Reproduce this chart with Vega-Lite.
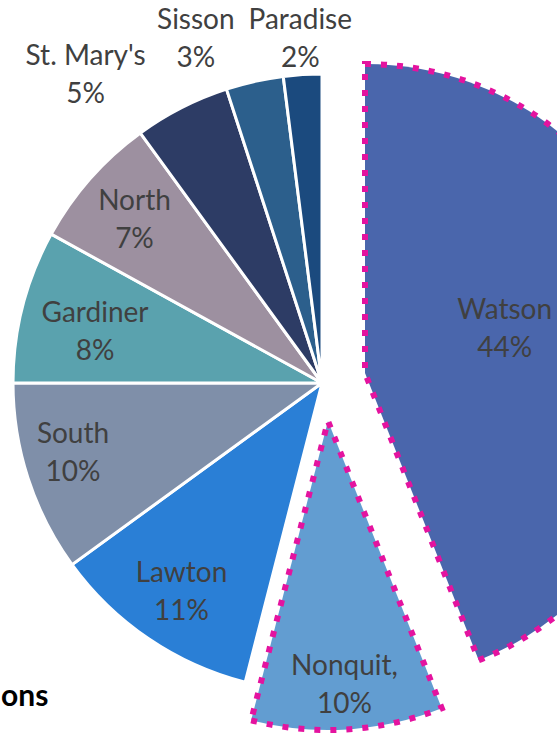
{
  "$schema": "https://vega.github.io/schema/vega-lite/v6.json",
  "width": 470,
  "height": 710,
  "autosize": {"type": "none"},
  "padding": {"left": 87, "top": 28, "right": 0, "bottom": 0},
  "background": "white",
  "config": {"view": {"stroke": null}},
  "title": {
    "text": "ons",
    "orient": "bottom",
    "anchor": "start",
    "frame": "group",
    "baseline": "alphabetic",
    "dx": -86,
    "dy": -93,
    "font": "Lato",
    "fontSize": 30,
    "fontWeight": "bold",
    "color": "black"
  },
  "data": {
    "values": [
      {"name": "Watson", "value": 0.44, "idx": 1},
      {"name": "Nonquit,", "value": 0.10, "idx": 2},
      {"name": "Lawton", "value": 0.11, "idx": 3},
      {"name": "South", "value": 0.10, "idx": 4},
      {"name": "Gardiner", "value": 0.08, "idx": 5},
      {"name": "North", "value": 0.07, "idx": 6},
      {"name": "St. Mary's", "value": 0.05, "idx": 7},
      {"name": "Sisson", "value": 0.03, "idx": 8},
      {"name": "Paradise", "value": 0.02, "idx": 9}
    ]
  },
  "encoding": {
    "theta": {"field": "value", "type": "quantitative", "stack": true},
    "order": {"field": "idx", "type": "quantitative"}
  },
  "layer": [
    {
      "mark": {"type": "arc", "outerRadius": 309, "stroke": "white", "strokeWidth": 3},
      "encoding": {
        "fill": {"field": "name", "type": "nominal", "legend": null,
          "scale": {"domain": ["Watson", "Nonquit,", "Lawton", "South", "Gardiner", "North", "St. Mary's", "Sisson", "Paradise"],
                    "range": ["#4A66AC", "#629DD1", "#2A7FD6", "#7F8FA9", "#5AA2AE", "#9D90A0", "#2D3C65", "#2C5F8C", "#1B4A7E"]}},
        "opacity": {"condition": {"test": "datum.name !== 'Watson' && datum.name !== 'Nonquit,'", "value": 1}, "value": 0}
      }
    },
    {
      "mark": {"type": "arc", "outerRadius": 309, "stroke": "#E4139F", "strokeWidth": 6, "strokeDash": [6, 10], "xOffset": 43, "yOffset": -10},
      "encoding": {
        "fill": {"field": "name", "type": "nominal", "legend": null},
        "opacity": {"condition": {"test": "datum.name === 'Watson'", "value": 1}, "value": 0}
      }
    },
    {
      "mark": {"type": "arc", "outerRadius": 309, "stroke": "#E4139F", "strokeWidth": 6, "strokeDash": [6, 10], "xOffset": 6, "yOffset": 38},
      "encoding": {
        "fill": {"field": "name", "type": "nominal", "legend": null},
        "opacity": {"condition": {"test": "datum.name === 'Nonquit,'", "value": 1}, "value": 0}
      }
    },
    {
      "mark": {"type": "text", "radius": 250, "dy": -16, "font": "Lato", "fontSize": 28, "fill": "#404040", "align": "center", "baseline": "middle"},
      "encoding": {"text": {"condition": {"test": "indexof(['North','Lawton'], datum.name) >= 0", "field": "name", "type": "nominal"}, "value": ""}}
    },
    {
      "mark": {"type": "text", "radius": 250, "dy": 22, "font": "Lato", "fontSize": 28, "fill": "#404040", "align": "center", "baseline": "middle"},
      "encoding": {"text": {"condition": {"test": "indexof(['North','Lawton'], datum.name) >= 0", "field": "value", "type": "quantitative", "format": ".0%"}, "value": ""}}
    },
    {
      "mark": {"type": "text", "radius": 233, "thetaOffset": -0.023, "dy": -16, "font": "Lato", "fontSize": 28, "fill": "#404040", "align": "center", "baseline": "middle"},
      "encoding": {"text": {"condition": {"test": "datum.name === 'Gardiner'", "field": "name", "type": "nominal"}, "value": ""}}
    },
    {
      "mark": {"type": "text", "radius": 233, "thetaOffset": -0.023, "dy": 22, "font": "Lato", "fontSize": 28, "fill": "#404040", "align": "center", "baseline": "middle"},
      "encoding": {"text": {"condition": {"test": "datum.name === 'Gardiner'", "field": "value", "type": "quantitative", "format": ".0%"}, "value": ""}}
    },
    {
      "mark": {"type": "text", "radius": 258, "thetaOffset": 0.049, "dy": -16, "font": "Lato", "fontSize": 28, "fill": "#404040", "align": "center", "baseline": "middle"},
      "encoding": {"text": {"condition": {"test": "datum.name === 'South'", "field": "name", "type": "nominal"}, "value": ""}}
    },
    {
      "mark": {"type": "text", "radius": 258, "thetaOffset": 0.049, "dy": 22, "font": "Lato", "fontSize": 28, "fill": "#404040", "align": "center", "baseline": "middle"},
      "encoding": {"text": {"condition": {"test": "datum.name === 'South'", "field": "value", "type": "quantitative", "format": ".0%"}, "value": ""}}
    },
    {
      "mark": {"type": "text", "radius": 147, "thetaOffset": -0.129, "xOffset": 43, "yOffset": -10, "dy": -16, "font": "Lato", "fontSize": 28, "fill": "#404040", "align": "center", "baseline": "middle"},
      "encoding": {"text": {"condition": {"test": "datum.name === 'Watson'", "field": "name", "type": "nominal"}, "value": ""}}
    },
    {
      "mark": {"type": "text", "radius": 147, "thetaOffset": -0.129, "xOffset": 43, "yOffset": -10, "dy": 22, "font": "Lato", "fontSize": 28, "fill": "#404040", "align": "center", "baseline": "middle"},
      "encoding": {"text": {"condition": {"test": "datum.name === 'Watson'", "field": "value", "type": "quantitative", "format": ".0%"}, "value": ""}}
    },
    {
      "mark": {"type": "text", "radius": 263, "xOffset": 6, "yOffset": 38, "dy": -16, "font": "Lato", "fontSize": 28, "fill": "#404040", "align": "center", "baseline": "middle"},
      "encoding": {"text": {"condition": {"test": "datum.name === 'Nonquit,'", "field": "name", "type": "nominal"}, "value": ""}}
    },
    {
      "mark": {"type": "text", "radius": 263, "xOffset": 6, "yOffset": 38, "dy": 22, "font": "Lato", "fontSize": 28, "fill": "#404040", "align": "center", "baseline": "middle"},
      "encoding": {"text": {"condition": {"test": "datum.name === 'Nonquit,'", "field": "value", "type": "quantitative", "format": ".0%"}, "value": ""}}
    },
    {
      "mark": {"type": "text", "radius": 389, "thetaOffset": -0.182, "dy": -17, "font": "Lato", "fontSize": 28, "fill": "#404040", "align": "center", "baseline": "middle"},
      "encoding": {"text": {"condition": {"test": "datum.name === \"St. Mary's\"", "field": "name", "type": "nominal"}, "value": ""}}
    },
    {
      "mark": {"type": "text", "radius": 389, "thetaOffset": -0.182, "dy": 21, "font": "Lato", "fontSize": 28, "fill": "#404040", "align": "center", "baseline": "middle"},
      "encoding": {"text": {"condition": {"test": "datum.name === \"St. Mary's\"", "field": "value", "type": "quantitative", "format": ".0%"}, "value": ""}}
    },
    {
      "mark": {"type": "text", "radius": 367, "thetaOffset": -0.131, "dy": -17, "font": "Lato", "fontSize": 28, "fill": "#404040", "align": "center", "baseline": "middle"},
      "encoding": {"text": {"condition": {"test": "datum.name === 'Sisson'", "field": "name", "type": "nominal"}, "value": ""}}
    },
    {
      "mark": {"type": "text", "radius": 367, "thetaOffset": -0.131, "dy": 21, "font": "Lato", "fontSize": 28, "fill": "#404040", "align": "center", "baseline": "middle"},
      "encoding": {"text": {"condition": {"test": "datum.name === 'Sisson'", "field": "value", "type": "quantitative", "format": ".0%"}, "value": ""}}
    },
    {
      "mark": {"type": "text", "radius": 346, "dy": -17, "font": "Lato", "fontSize": 28, "fill": "#404040", "align": "center", "baseline": "middle"},
      "encoding": {"text": {"condition": {"test": "datum.name === 'Paradise'", "field": "name", "type": "nominal"}, "value": ""}}
    },
    {
      "mark": {"type": "text", "radius": 346, "dy": 21, "font": "Lato", "fontSize": 28, "fill": "#404040", "align": "center", "baseline": "middle"},
      "encoding": {"text": {"condition": {"test": "datum.name === 'Paradise'", "field": "value", "type": "quantitative", "format": ".0%"}, "value": ""}}
    }
  ]
}
